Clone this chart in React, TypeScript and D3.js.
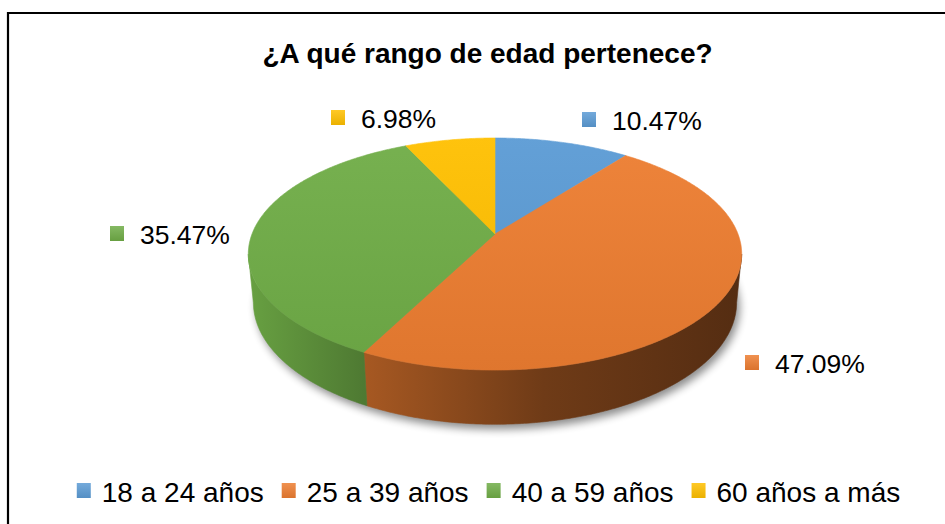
import React, { useEffect, useRef } from 'react';
import * as d3 from 'd3';

const title = '¿A qué rango de edad pertenece?';
const categories = ['18 a 24 años', '25 a 39 años', '40 a 59 años', '60 años a más'];
const values = [10.47, 47.09, 35.47, 6.98];
const colors = ['#5B9BD5', '#ED7D31', '#70AD47', '#FFC000'];
// where each data label sits (marker left edge, text baseline)
const labelAnchors = [
  { x: 582, y: 130 },
  { x: 745, y: 373 },
  { x: 110, y: 244 },
  { x: 331, y: 128 },
];

const W = 945;
const H = 524;
const FONT = '"Liberation Sans", Arial, sans-serif';

export default function App() {
  const ref = useRef<SVGSVGElement | null>(null);

  useEffect(() => {
    const svg = d3.select(ref.current);
    svg.selectAll('*').remove();
    const defs = svg.append('defs');

    // 3D pie projection
    const R = 243;
    const tilt = (27.6 * Math.PI) / 180;
    const dist = 1248;
    const depth = 55;
    const cx = 495;
    const cy = 234;
    const project = (theta: number, yUp: number): [number, number] => {
      const x3 = R * Math.sin(theta);
      const z3 = R * Math.cos(theta);
      const up = yUp * Math.cos(tilt) + z3 * Math.sin(tilt);
      const d = z3 * Math.cos(tilt) - yUp * Math.sin(tilt);
      const s = dist / (dist + d);
      return [cx + x3 * s, cy - up * s];
    };

    // silhouette angles
    let thR = Math.PI / 2, thL = (3 * Math.PI) / 2, best = -1e9, worst = 1e9;
    for (let t = 0; t <= Math.PI * 2; t += 0.002) {
      const [x] = project(t, 0);
      if (t < Math.PI && x > best) { best = x; thR = t; }
      if (t > Math.PI && x < worst) { worst = x; thL = t; }
    }

    const arcPts = (a: number, b: number, yUp: number) => {
      const n = Math.max(2, Math.ceil(Math.abs(b - a) / 0.01));
      return d3.range(n + 1).map(i => project(a + ((b - a) * i) / n, yUp));
    };

    const pie = d3.pie<number>().sort(null).startAngle(0).endAngle(Math.PI * 2);
    const arcs = pie(values);

    // gradients
    colors.forEach((c, i) => {
      const side = defs.append('linearGradient')
        .attr('id', `side${i}`)
        .attr('gradientUnits', 'userSpaceOnUse')
        .attr('x1', cx - R).attr('x2', cx + R).attr('y1', 0).attr('y2', 0);
      [[0, 0.92], [0.235, 0.7], [0.6, 0.47], [1, 0.36]].forEach(([o, f]) => {
        side.append('stop').attr('offset', o).attr('stop-color', d3.interpolateRgb('#000', c)(f));
      });
      const top = defs.append('linearGradient')
        .attr('id', `top${i}`)
        .attr('gradientUnits', 'userSpaceOnUse')
        .attr('x1', 0).attr('x2', 0).attr('y1', cy - 100).attr('y2', cy + 140);
      top.append('stop').attr('offset', 0).attr('stop-color', d3.interpolateRgb(c, '#fff')(0.05));
      top.append('stop').attr('offset', 1).attr('stop-color', d3.interpolateRgb(c, '#000')(0.06));
      const mk = defs.append('linearGradient')
        .attr('id', `mk${i}`)
        .attr('x1', 0).attr('x2', 0).attr('y1', 0).attr('y2', 1);
      mk.append('stop').attr('offset', 0).attr('stop-color', d3.interpolateRgb(c, '#fff')(0.15));
      mk.append('stop').attr('offset', 1).attr('stop-color', d3.interpolateRgb(c, '#000')(0.08));
    });

    const blur = defs.append('filter').attr('id', 'shadow')
      .attr('x', '-10%').attr('y', '-10%').attr('width', '120%').attr('height', '130%');
    blur.append('feGaussianBlur').attr('stdDeviation', 4);

    // border
    svg.append('path')
      .attr('d', `M8,${H} L8,13 L${W},13`)
      .attr('fill', 'none')
      .attr('stroke', '#000')
      .attr('stroke-width', 2.2);

    // title
    svg.append('text')
      .attr('x', 487.5).attr('y', 63)
      .attr('text-anchor', 'middle')
      .attr('font-family', FONT)
      .attr('font-weight', 'bold')
      .attr('font-size', 28)
      .attr('fill', '#000')
      .text(title);

    const line = d3.line();

    // shadow
    svg.append('path')
      .attr('d', line(arcPts(0, Math.PI * 2, -depth)) + 'Z')
      .attr('transform', 'translate(3,5)')
      .attr('fill', '#000')
      .attr('opacity', 0.45)
      .attr('filter', 'url(#shadow)');

    // side walls
    arcs.forEach((a, i) => {
      const s = Math.max(a.startAngle, thR);
      const e = Math.min(a.endAngle, thL);
      if (e <= s) return;
      const pts = arcPts(s, e, 0).concat(arcPts(e, s, -depth));
      svg.append('path')
        .attr('d', line(pts) + 'Z')
        .attr('fill', `url(#side${i})`)
        .attr('stroke', `url(#side${i})`)
        .attr('stroke-width', 0.6);
    });

    // top faces
    arcs.forEach((a, i) => {
      const pts: [number, number][] = [[cx, cy], ...arcPts(a.startAngle, a.endAngle, 0)];
      svg.append('path')
        .attr('d', line(pts) + 'Z')
        .attr('fill', `url(#top${i})`)
        .attr('stroke', `url(#top${i})`)
        .attr('stroke-width', 0.6);
    });

    // data labels
    values.forEach((v, i) => {
      const p = labelAnchors[i];
      svg.append('rect')
        .attr('x', p.x).attr('y', p.y - 18)
        .attr('width', 14).attr('height', 15)
        .attr('fill', `url(#mk${i})`);
      svg.append('text')
        .attr('x', p.x + 30).attr('y', p.y)
        .attr('font-family', FONT)
        .attr('font-size', 26.5)
        .attr('fill', '#000')
        .text(`${v.toFixed(2)}%`);
    });

    // legend
    const lg = svg.append('g');
    let x = 0;
    categories.forEach((c, i) => {
      lg.append('rect')
        .attr('x', x).attr('y', 483)
        .attr('width', 14).attr('height', 15)
        .attr('fill', `url(#mk${i})`);
      const t = lg.append('text')
        .attr('x', x + 25).attr('y', 502)
        .attr('font-family', FONT)
        .attr('font-size', 28)
        .attr('fill', '#000')
        .text(c);
      const w = (t.node() as SVGTextElement).getComputedTextLength();
      x += 25 + w + 18;
    });
    const total = x - 18;
    lg.attr('transform', `translate(${488.5 - total / 2},0)`);
  }, []);

  return (
    <svg
      ref={ref}
      width={W}
      height={H}
      style={{ position: 'absolute', left: 0, top: 0, background: '#fff' }}
    />
  );
}
